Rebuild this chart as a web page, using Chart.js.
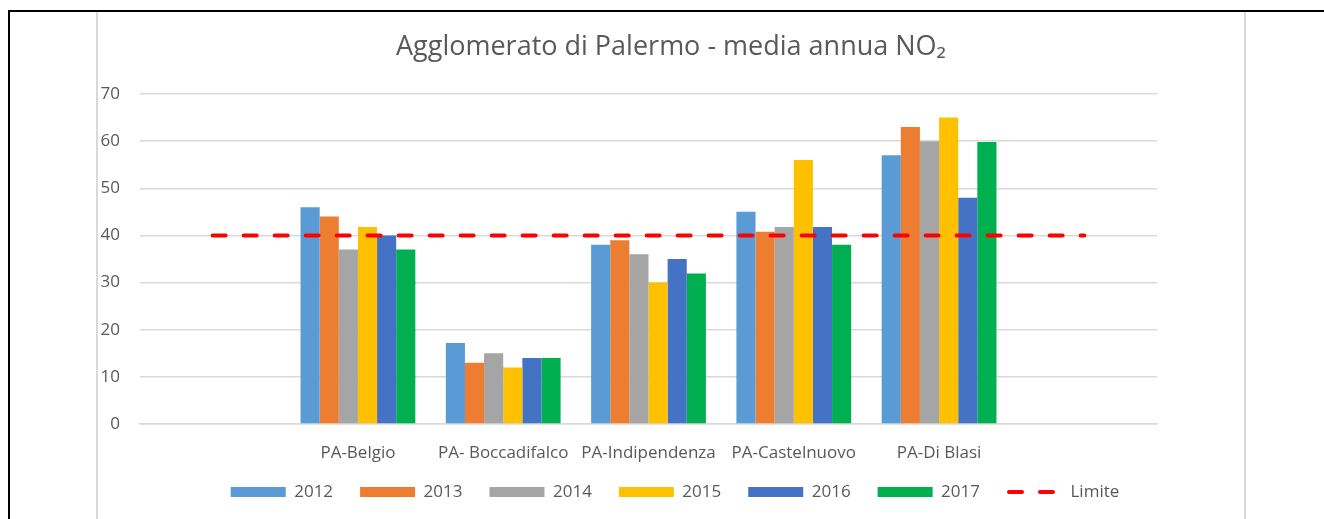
<!DOCTYPE html>
<html>
<head>
<meta charset="utf-8">
<script src="https://cdn.jsdelivr.net/npm/chart.js@4/dist/chart.umd.min.js"></script>
<style>
  html, body { margin: 0; padding: 0; background: #fff; overflow: hidden; }
  .frame { position: absolute; left: 8px; top: 10px; width: 1400px; height: 600px;
           border-top: 2px solid #000; border-left: 2px solid #000; }
  .box { position: absolute; left: 96px; top: 12px; width: 1146px; height: 600px;
         border-left: 2px solid #d9d9d9; border-right: 2px solid #d9d9d9; }
  .wrap { position: absolute; left: 98px; top: 12px; width: 1146px; height: 507px; }
</style>
</head>
<body>
<div class="frame"></div>
<div class="box"></div>
<div class="wrap"><canvas id="no2Chart"></canvas></div>
<script>
// stazioni (prima e ultima categoria vuote, come nel grafico originale)
const stations = ['', 'PA-Belgio', 'PA- Boccadifalco', 'PA-Indipendenza', 'PA-Castelnuovo', 'PA-Di Blasi', ''];
const years = ['2012', '2013', '2014', '2015', '2016', '2017'];
const values2012 = [null, 46, 17.2, 38, 45, 57, null];
const values2013 = [null, 44, 13, 39, 40.8, 63, null];
const values2014 = [null, 37, 15, 36, 41.8, 60, null];
const values2015 = [null, 41.8, 12, 30, 56, 65, null];
const values2016 = [null, 40, 14, 35, 41.8, 48, null];
const values2017 = [null, 37, 14, 31.9, 38, 59.8, null];
const limite = [40, 40, 40, 40, 40, 40, 40];
const yTicks = [0, 10, 20, 30, 40, 50, 60, 70];

const colors = ['#5B9BD5', '#ED7D31', '#A5A5A5', '#FFC000', '#4472C4', '#00B050'];
const series = [values2012, values2013, values2014, values2015, values2016, values2017];
const textColor = '#595959';
const gridColor = '#d9d9d9';

Chart.defaults.font.family = '"Open Sans", sans-serif';
Chart.defaults.color = textColor;

const barSets = years.map((y, i) => ({
    type: 'bar',
    label: y,
    data: series[i],
    backgroundColor: colors[i],
    borderWidth: 0,
    barPercentage: 1,
    categoryPercentage: 0.79,
    order: 1
}));

// legenda un po' piu' vicina all'asse (il padding orizzontale serve largo)
const X_AXIS_H = 41;
const legendShift = {
    id: 'legendShift',
    afterLayout(chart) {
        const lg = chart.legend;
        const dy = X_AXIS_H - 32.5;
        lg.top -= dy;
        lg.bottom -= dy;
        lg.left += 4;
        lg.right += 4;
    }
};

// linea tratteggiata della legenda per "Limite"
const limiteLegend = {
    id: 'limiteLegend',
    afterDraw(chart) {
        const legend = chart.legend;
        const items = legend.legendItems || [];
        const idx = items.findIndex(it => it.text === 'Limite');
        if (idx < 0) return;
        const box = legend.legendHitBoxes[idx];
        const ctx = chart.ctx;
        const y = box.top + box.height / 2;
        ctx.save();
        ctx.strokeStyle = '#FF0000';
        ctx.lineWidth = 4;
        ctx.lineCap = 'round';
        ctx.setLineDash([13, 18]);
        ctx.beginPath();
        ctx.moveTo(box.left + 2, y);
        ctx.lineTo(box.left + 46, y);
        ctx.stroke();
        ctx.restore();
    }
};

const chart = new Chart(document.getElementById('no2Chart').getContext('2d'), {
    data: {
        labels: stations,
        datasets: [...barSets, {
            type: 'line',
            label: 'Limite',
            data: limite,
            borderColor: '#FF0000',
            backgroundColor: '#FF0000',
            borderWidth: 4,
            borderDash: [13, 18],
            borderCapStyle: 'round',
            pointRadius: 0,
            order: 0
        }]
    },
    options: {
        responsive: true,
        maintainAspectRatio: false,
        animation: false,
        plugins: {
            title: {
                display: true,
                text: 'Agglomerato di Palermo - media annua NO₂',
                color: textColor,
                font: { size: 27, weight: 'normal' },
                padding: { top: 19, bottom: 30.6 }
            },
            legend: {
                position: 'bottom',
                labels: {
                    boxWidth: 55,
                    boxHeight: 10,
                    padding: 27,
                    color: textColor,
                    font: { size: 17 },
                    sort: (a, b) => a.datasetIndex - b.datasetIndex,
                    generateLabels(chart) {
                        const items = Chart.defaults.plugins.legend.labels.generateLabels(chart);
                        items.forEach(it => {
                            it.lineWidth = 0;
                            if (it.text === 'Limite') {
                                it.fillStyle = 'rgba(0,0,0,0)';
                                it.strokeStyle = 'rgba(0,0,0,0)';
                            }
                        });
                        return items;
                    }
                }
            },
            tooltip: { enabled: false }
        },
        scales: {
            x: {
                grid: { display: false, drawTicks: false },
                border: { color: gridColor, width: 1.5 },
                ticks: { padding: 19, color: textColor, font: { size: 17 }, maxRotation: 0, autoSkip: false },
                afterFit: s => { s.height = X_AXIS_H; }
            },
            y: {
                min: 0,
                max: 70,
                afterBuildTicks: s => { s.ticks = yTicks.map(v => ({ value: v })); },
                grid: { color: gridColor, lineWidth: 1.5, drawTicks: false },
                border: { display: false },
                ticks: { padding: 20, color: textColor, font: { size: 17 } },
                afterFit: s => { s.width = 42; }
            },
            yRight: {
                position: 'right',
                display: true,
                grid: { display: false, drawTicks: false },
                border: { display: false },
                ticks: { display: false },
                afterFit: s => { s.width = 87; }
            }
        }
    },
    plugins: [legendShift, limiteLegend]
});
</script>
</body>
</html>
